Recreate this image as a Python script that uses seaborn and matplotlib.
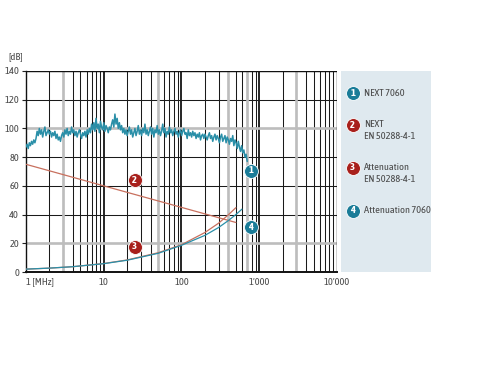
import numpy as np
import pandas as pd
import matplotlib
matplotlib.use("Agg")
import matplotlib.pyplot as plt
import seaborn as sns

# ---- data ----
next7060_vals = [
    87, 89, 86, 90, 88, 91, 89, 92, 90, 93,
    98, 95, 100, 96, 99, 94, 98, 101, 95, 97,
    99, 96, 98, 94, 97, 95, 98, 93, 96, 92,
    94, 91, 95, 97, 94, 99, 96, 100, 95, 98,
    96, 101, 97, 99, 95, 98, 94, 97, 99, 96,
    93, 97, 95, 98, 94, 99, 96, 100, 97, 103,
    99, 104, 98, 107, 100, 103, 97, 105, 101, 99,
    104, 98, 102, 100, 97, 101, 99, 103, 106, 101,
    110, 103, 107, 100, 104, 99, 102, 97, 100, 96,
    99, 95, 98, 101, 96, 99, 94, 97, 100, 95,
    98, 102, 96, 99, 95, 100, 97, 103, 96, 99,
    95, 98, 101, 96, 100, 94, 99, 97, 102, 96,
    99, 95, 98, 103, 97, 100, 94, 98, 96, 101,
    97, 99, 95, 98, 100, 96, 98, 94, 97, 99,
    95, 98, 100, 96, 97, 93, 99, 95, 97, 94,
    98, 95, 97, 93, 96, 94, 97, 92, 95, 96,
    93, 96, 94, 92, 95, 97, 93, 95, 91, 94,
    96, 92, 95, 93, 90, 94, 96, 91, 93, 95,
    90, 94, 92, 89, 93, 91, 95, 88, 92, 90,
    86, 91, 87, 84, 88, 83, 85, 80, 82, 77,
]
next7060_f = np.geomspace(1, 700, len(next7060_vals))

next_std_f = [1, 10, 100, 500]
next_std_vals = [75, 60, 45, 34.5]

att_std_f = [1, 2, 4, 10, 20, 50, 100, 200, 300, 400, 500]
att_std_vals = [2.0, 2.7, 3.7, 5.9, 8.4, 13.4, 19.0, 27.5, 34.0, 39.8, 44.8]

att_7060_f = [1, 2, 4, 10, 20, 50, 100, 200, 300, 400, 500, 600]
att_7060_vals = [2.0, 2.7, 3.7, 5.8, 8.2, 13.0, 18.6, 25.5, 31.0, 35.8, 40.0, 43.8]

legend_labels = ["NEXT 7060", "NEXT\nEN 50288-4-1", "Attenuation\nEN 50288-4-1", "Attenuation 7060"]
x_ticks = [1, 10, 100, 1000, 10000]
x_ticklabels = ["1 [MHz]", "10", "100", "1\u2019000", "10\u2019000"]
y_ticks = [0, 20, 40, 60, 80, 100, 120, 140]

TEAL = "#2a8fa8"
TEAL_DARK = "#1a7c98"
RED_LINE = "#c8705e"
RED_DARK = "#a8201c"
TXT = "#4a4a4a"
FONT = ["Asap Condensed", "Barlow Semi Condensed", "DejaVu Sans"]

sns.set_style("white")
plt.rcParams["font.family"] = FONT

fig = plt.figure(figsize=(4.81, 3.92), dpi=100)
ax = fig.add_axes([26/481, 1-272/392, (337-26)/481, (272-71)/392])
ax.set_xscale("log")
ax.set_xlim(1, 10000)
ax.set_ylim(0, 140)

# grid
for dec in [1, 10, 100, 1000]:
    for m in range(2, 10):
        ax.axvline(dec*m, color="#1a1a1a", lw=0.75, zorder=1)
for d in [10, 100, 1000]:
    ax.axvline(d, color="#000000", lw=1.2, zorder=1)
for g in [3, 50, 400, 700, 3000]:
    ax.axvline(g, color="#bdbdbd", lw=1.9, zorder=1.5)
for yv in [40, 60, 80, 120, 140]:
    ax.axhline(yv, color="#1a1a1a", lw=0.75, zorder=1)
for yv in [20, 100]:
    ax.axhline(yv, color="#bdbdbd", lw=1.9, zorder=1.5)

df1 = pd.DataFrame({"f": next7060_f, "v": next7060_vals})
df2 = pd.DataFrame({"f": next_std_f, "v": next_std_vals})
df3 = pd.DataFrame({"f": att_std_f, "v": att_std_vals})
df4 = pd.DataFrame({"f": att_7060_f, "v": att_7060_vals})

sns.lineplot(data=df1, x="f", y="v", ax=ax, color=TEAL, lw=1.1, zorder=3)
sns.lineplot(data=df2, x="f", y="v", ax=ax, color=RED_LINE, lw=0.9, zorder=3)
sns.lineplot(data=df3, x="f", y="v", ax=ax, color=RED_LINE, lw=0.9, zorder=3)
sns.lineplot(data=df4, x="f", y="v", ax=ax, color=TEAL, lw=0.9, zorder=3)

def badge(x, y, n, color):
    ax.plot([x], [y], marker="o", ms=10, color=color, mec="white", mew=0.6,
            zorder=5, clip_on=False)
    ax.text(x, y, str(n), color="white", fontsize=7.5, fontweight="bold",
            ha="center", va="center", zorder=6)

badge(780, 70.5, 1, TEAL_DARK)
badge(25, 64, 2, RED_DARK)
badge(25, 17.5, 3, RED_DARK)
badge(780, 31, 4, TEAL_DARK)

ax.set_xticks(x_ticks)
ax.set_xticklabels(x_ticklabels)
ax.set_xticks([], minor=True)
ax.set_yticks(y_ticks)
ax.tick_params(axis="y", length=3, width=0.8, color="#222222", labelsize=7.5, labelcolor=TXT, pad=2, left=True)
ax.tick_params(axis="x", length=0, labelsize=7.5, labelcolor=TXT, pad=4)
labels = ax.get_xticklabels()
labels[0].set_ha("left")
ax.set_xlabel("")
ax.set_ylabel("")
for s in ["top", "right"]:
    ax.spines[s].set_visible(False)
ax.spines["left"].set_color("#111111")
ax.spines["left"].set_linewidth(1.0)
ax.spines["bottom"].set_color("#111111")
ax.spines["bottom"].set_linewidth(1.4)
ax.axhline(140, color="#111111", lw=1.0, zorder=2)
ax.axvline(10000, color="#111111", lw=1.0, zorder=2)

fig.text(8/481, 1-57/392, "[dB]", fontsize=7.5, color=TXT, ha="left", va="center")

# legend panel
panel = plt.Rectangle((341/481, 1-272/392), 90/481, (272-71)/392, transform=fig.transFigure,
                      facecolor="#dfe9ef", edgecolor="none", zorder=0)
fig.patches.append(panel)

leg_y = [93, 125, 168, 211]
leg_colors = [TEAL_DARK, RED_DARK, RED_DARK, TEAL_DARK]
for i, (lab, yy, c) in enumerate(zip(legend_labels, leg_y, leg_colors)):
    yf = 1 - yy/392
    fig.lines.append(plt.Line2D([352.7/481], [yf], marker="o", ms=10, color=c, mec="white", mew=0.6,
                                transform=fig.transFigure))
    fig.text(352.7/481, yf, str(i+1), color="white", fontsize=7.5, fontweight="bold",
             ha="center", va="center")
    if "\n" in lab:
        fig.text(364/481, yf + 5/392, lab, fontsize=7.5, color=TXT, ha="left", va="top",
                 linespacing=1.45)
    else:
        fig.text(364/481, yf, lab, fontsize=7.5, color=TXT, ha="left", va="center")

fig.savefig("out.png", dpi=100, facecolor="white")
